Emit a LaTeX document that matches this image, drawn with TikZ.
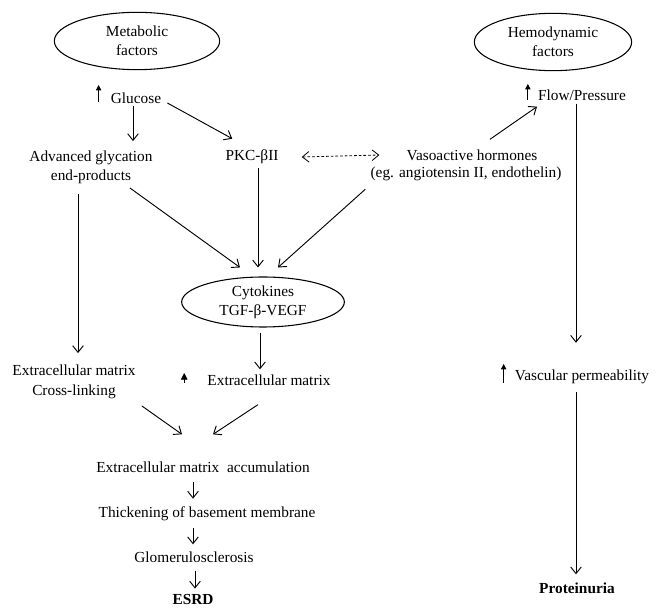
\documentclass[tikz,border=0pt]{standalone}
\usepackage{fontspec}
\setmainfont{Liberation Serif}
\usetikzlibrary{shapes.geometric,arrows.meta}
\begin{document}
\begin{tikzpicture}[x=0.75pt,y=-0.75pt,
  >={Straight Barb[length=5pt,width=8pt]},
  txt/.style={align=center,inner sep=0pt,font=\fontsize{11.5}{14.5}\selectfont},
  oval/.style={txt,draw,ellipse,line width=0.8pt},
  arr/.style={->,line width=0.7pt},
  twoway/.style={<->,line width=0.6pt,dash pattern=on 2pt off 1.5pt},
  rise/.style={-{Triangle[length=4pt,width=4pt]},line width=0.6pt}]
\useasboundingbox (0,0) rectangle (662,609);
% factors
\node[oval,minimum width=124pt,minimum height=43pt] (met) at (137,41) {Metabolic\\factors};
\node[oval,minimum width=118pt,minimum height=43pt] (hem) at (553,42) {Hemodynamic\\factors};
% metabolic side
\node[txt] (glu) at (136,98) {Glucose};
\node[txt] (age) at (91,167) {Advanced glycation\\end-products};
\node[txt] (pkc) at (252,157) {PKC-βII};
\node[txt] (vaso) at (472,155) {Vasoactive hormones};
\node[txt] (eg) at (466,174) {(eg. angiotensin II, endothelin)};
\node[txt] (flow) at (582,95) {Flow/Pressure};
\node[oval,minimum width=122pt,minimum height=37.5pt] (cyto) at (263,302) {Cytokines\\TGF-β-VEGF};
\node[txt] (ecml) at (74,382) {Extracellular matrix\\Cross-linking};
\node[txt] (ecmr) at (269,380) {Extracellular matrix};
\node[txt] (vasc) at (582,377) {Vascular permeability};
\node[txt] (acc) at (203,467) {Extracellular matrix\ \ accumulation};
\node[txt] (thick) at (207,514) {Thickening of basement membrane};
\node[txt] (glom) at (194,557) {Glomerulosclerosis};
\node[txt,font=\fontsize{11.5}{14.5}\selectfont\bfseries] (esrd) at (193,600) {ESRD};
\node[txt,font=\fontsize{11.5}{14.5}\selectfont\bfseries] (prot) at (577,588) {Proteinuria};
% increase marks
\draw[rise] ([shift={(-12,4)}]glu.west) -- ([shift={(-12,-13)}]glu.west);
\draw[rise] ([shift={(-10,5)}]flow.west) -- ([shift={(-10,-11)}]flow.west);
\draw[rise] ([shift={(-11,6)}]vasc.west) -- ([shift={(-11,-13)}]vasc.west);
\draw[rise,-{Triangle[length=5pt,width=5pt]}] ([shift={(-23,3)}]ecmr.west) -- ([shift={(-23,-7)}]ecmr.west);
% connectors
\draw[arr] ([shift={(-3,2)}]glu.south) -- ([shift={(42,-9)}]age.north);
\draw[arr] ([shift={(6,5)}]glu.east) -- ([shift={(7,-11)}]pkc.north west);
\draw[twoway] ([shift={(23,0)}]pkc.east) -- ([shift={(-27,0)}]vaso.west);
\draw[arr] ([shift={(18,-10)}]vaso.north) -- ([shift={(-45,6)}]flow.south);
\draw[arr] ([shift={(-6,3)}]flow.south) -- ([shift={(-6,-27)}]vasc.north);
\draw[arr] ([shift={(-6,8)}]vasc.south) -- ([shift={(-1,-8)}]prot.north);
\draw[arr] ([shift={(-13,10)}]age.south) -- ([shift={(4,-12)}]ecml.north);
\draw[arr] ([shift={(-23,4)}]age.south east) -- ([shift={(-23,-9)}]cyto.north);
\draw[arr] ([shift={(6,4)}]pkc.south) -- ([shift={(-5,-9)}]cyto.north);
\draw[arr] ([shift={(-5,8)}]eg.south west) -- ([shift={(15,-9)}]cyto.north);
\draw[arr] ([shift={(-3,5)}]cyto.south) -- ([shift={(-9,-5)}]ecmr.north);
\draw[arr] ([shift={(6,7)}]ecml.south east) -- ([shift={(-21,-27)}]acc.north);
\draw[arr] ([shift={(-11,19)}]ecmr.south) -- ([shift={(10,-27)}]acc.north);
\draw[arr] ([shift={(-10,9)}]acc.south) -- ([shift={(-14,-8)}]thick.north);
\draw[arr] ([shift={(-14,7)}]thick.south) -- ([shift={(-1,-7)}]glom.north);
\draw[arr] ([shift={(1,8)}]glom.south) -- ([shift={(2,-6)}]esrd.north);
\end{tikzpicture}
\end{document}
